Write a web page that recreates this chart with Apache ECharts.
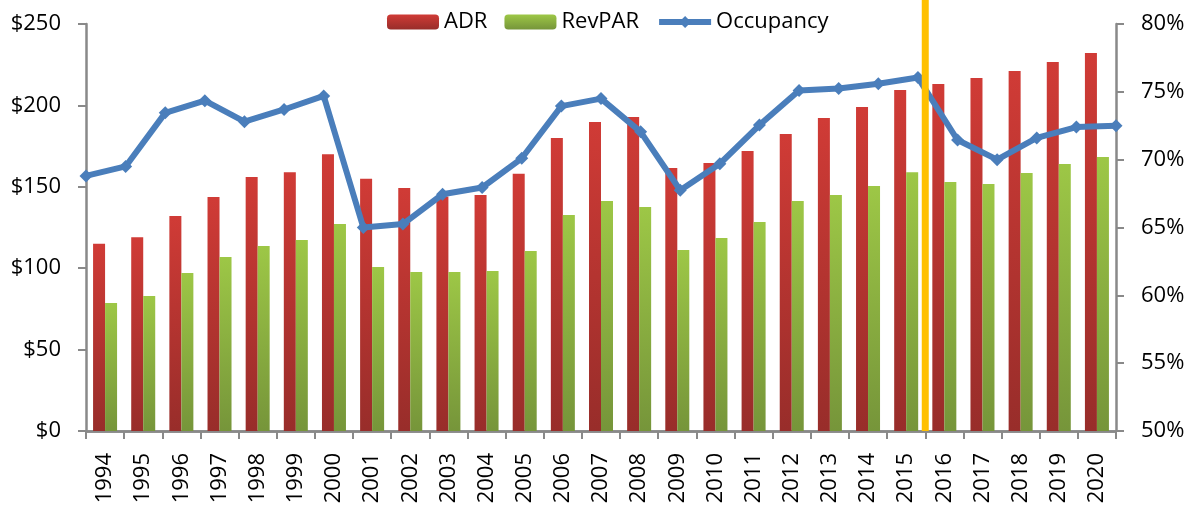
<!DOCTYPE html>
<html>
<head>
<meta charset="utf-8">
<script src="https://cdn.jsdelivr.net/npm/echarts@6/dist/echarts.min.js"></script>
<style>
  html, body { margin: 0; padding: 0; background: #fff; }
  #chart { width: 1196px; height: 512px; }
</style>
</head>
<body>
<div id="chart"></div>
<script>
const years = ['1994','1995','1996','1997','1998','1999','2000','2001','2002','2003','2004','2005','2006','2007','2008','2009','2010','2011','2012','2013','2014','2015','2016','2017','2018','2019','2020'];
const adr = [115, 119, 132, 143.7, 156, 159, 170, 155, 149.3, 144, 145, 158, 180, 189.8, 192.9, 161.5, 164.6, 172, 182.4, 192.3, 199, 209.5, 213.1, 216.8, 221.1, 226.7, 232.2];
const revpar = [78.6, 82.9, 97, 106.9, 113.6, 117.3, 127.1, 100.7, 97.7, 97.7, 98.3, 110.6, 132.7, 141.3, 137.6, 111.2, 118.6, 128.4, 141.3, 145, 150.5, 159, 153, 151.7, 158.5, 164, 168.3];
const occupancy = [68.8, 69.5, 73.45, 74.35, 72.8, 73.7, 74.7, 65.0, 65.25, 67.45, 67.95, 70.1, 73.95, 74.5, 72.05, 67.75, 69.7, 72.55, 75.1, 75.25, 75.6, 76.05, 71.45, 70.0, 71.6, 72.4, 72.5];
const dollarTicks = { min: 0, max: 250, interval: 50 };
const pctTicks = { min: 50, max: 80, interval: 5 };
const markerAfterYear = '2015';

const FONT = 'Open Sans';
const AXIS_GRAY = '#898989';

const chart = echarts.init(document.getElementById('chart'), null, { renderer: 'canvas' });

const redGrad = new echarts.graphic.LinearGradient(0, 0, 0, 1, [
  { offset: 0, color: '#D03B36' }, { offset: 1, color: '#982D2A' }
]);
const greenGrad = new echarts.graphic.LinearGradient(0, 0, 0, 1, [
  { offset: 0, color: '#9DC746' }, { offset: 1, color: '#76953A' }
]);

const option = {
  animation: false,
  textStyle: { fontFamily: FONT },
  legend: {
    top: 6,
    left: 382,
    itemWidth: 52,
    itemHeight: 15,
    itemGap: 17,
    textStyle: { fontFamily: FONT, fontSize: 22, color: '#000' },
    data: [
      'ADR',
      'RevPAR',
      { name: 'Occupancy', lineStyle: { width: 6 } }
    ]
  },
  grid: { left: 86, right: 80, top: 24, bottom: 81, containLabel: false },
  xAxis: [
    {
      type: 'category',
      data: years,
      position: 'bottom',
      offset: 8,
      boundaryGap: true,
      axisLine: { show: true, lineStyle: { color: AXIS_GRAY, width: 2.5 } },
      axisTick: { show: true, length: 8, lineStyle: { color: AXIS_GRAY, width: 2 } },
      axisLabel: { rotate: 90, margin: 14, fontFamily: FONT, fontSize: 22, color: '#000', interval: 0 }
    },
    {
      type: 'category',
      data: years,
      position: 'bottom',
      boundaryGap: false,
      axisLine: { show: true, lineStyle: { color: AXIS_GRAY, width: 2.5 } },
      axisTick: { show: false },
      axisLabel: { show: false },
      splitLine: { show: false }
    }
  ],
  yAxis: [
    {
      type: 'value',
      min: dollarTicks.min, max: dollarTicks.max, interval: dollarTicks.interval,
      position: 'left',
      axisLine: { show: true, lineStyle: { color: AXIS_GRAY, width: 2.5 } },
      axisTick: { show: true, length: 8, lineStyle: { color: AXIS_GRAY, width: 2 } },
      splitLine: { show: false },
      axisLabel: { formatter: v => '$' + v, margin: 25, fontFamily: FONT, fontSize: 22, color: '#000' }
    },
    {
      type: 'value',
      min: pctTicks.min, max: pctTicks.max, interval: pctTicks.interval,
      position: 'right',
      axisLine: { show: true, lineStyle: { color: AXIS_GRAY, width: 2.5 } },
      axisTick: { show: true, length: 8, lineStyle: { color: AXIS_GRAY, width: 2 } },
      splitLine: { show: false },
      axisLabel: { formatter: v => v + '%', margin: 25, fontFamily: FONT, fontSize: 22, color: '#000' }
    }
  ],
  series: [
    {
      name: 'ADR', type: 'bar', xAxisIndex: 0, yAxisIndex: 0,
      data: adr, barWidth: 12, barGap: '0%',
      itemStyle: { color: redGrad }
    },
    {
      name: 'RevPAR', type: 'bar', xAxisIndex: 0, yAxisIndex: 0,
      data: revpar, barWidth: 12, barGap: '0%',
      itemStyle: { color: greenGrad }
    },
    {
      name: 'Occupancy', type: 'line', xAxisIndex: 1, yAxisIndex: 1,
      data: occupancy,
      symbol: 'diamond', symbolSize: 13,
      lineStyle: { color: '#4A7EBB', width: 6 },
      itemStyle: { color: '#4A7EBB' },
      z: 5
    }
  ]
};
chart.setOption(option);

// Orange divider at the boundary after markerAfterYear
const idx = years.indexOf(markerAfterYear);
const xa = chart.convertToPixel({ xAxisIndex: 0 }, years[idx]);
const xb = chart.convertToPixel({ xAxisIndex: 0 }, years[idx + 1]);
const xMid = (xa + xb) / 2;
const yBase = chart.convertToPixel({ yAxisIndex: 0 }, 0);
chart.setOption({
  graphic: [{
    type: 'line', z: 100,
    shape: { x1: xMid, y1: 0, x2: xMid, y2: yBase },
    style: { stroke: '#FFC000', lineWidth: 7 }
  }]
});
</script>
</body>
</html>
